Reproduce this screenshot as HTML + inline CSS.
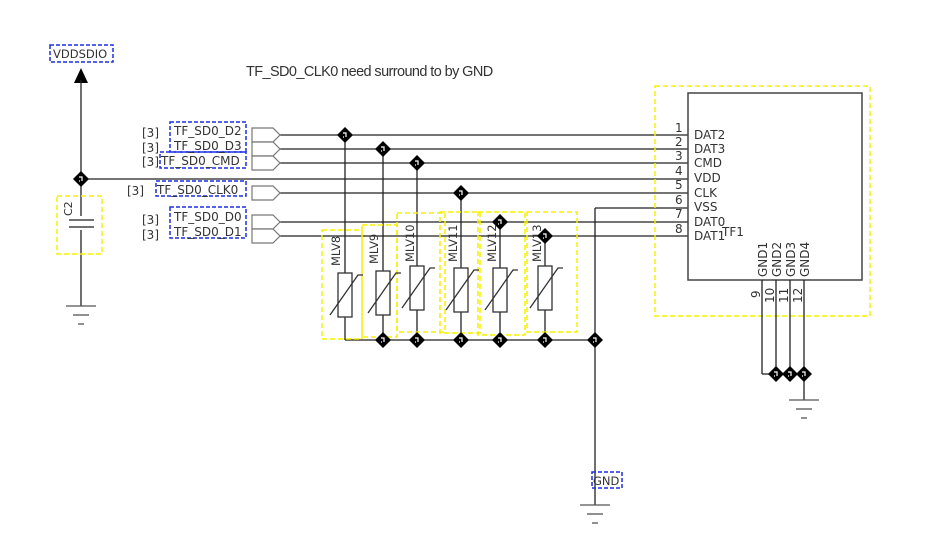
<!DOCTYPE html>
<html><head><meta charset="utf-8"><style>
html,body{margin:0;padding:0;background:#fff;}
svg{display:block;}
text{font-family:"DejaVu Sans","Liberation Sans",sans-serif;fill:#333;}
</style></head><body>
<svg width="950" height="554" viewBox="0 0 950 554" xmlns="http://www.w3.org/2000/svg">
<defs>
<g id="j"><path d="M0,-8 L8,0 L0,8 L-8,0 Z" fill="#000"/><path d="M-2,-2 h3 v4 M-2,2 h1" stroke="#fff" stroke-width="1.2" fill="none"/></g>
<g id="gnd" stroke="#555" stroke-width="1.3"><line x1="-15" y1="0" x2="15" y2="0"/><line x1="-8" y1="9" x2="8" y2="9"/><line x1="-3" y1="18" x2="3" y2="18"/></g>
</defs>

<text x="246" y="76" style="font-family:'Liberation Sans',sans-serif" font-size="14.5" letter-spacing="-0.6" fill="#111">TF_SD0_CLK0 need surround to by GND</text>

<!-- VDDSDIO -->
<rect x="50" y="45" width="63" height="17" fill="none" stroke="#1a2fe0" stroke-width="1.5" stroke-dasharray="4,2"/>
<text x="53" y="58" font-size="11.5">VDDSDIO</text>
<path d="M74,83 L81,68 L88,83 Z" fill="#000"/>
<line x1="81" y1="80" x2="81" y2="306" stroke="#222" stroke-width="1.3"/>
<!-- C2 -->
<rect x="57" y="196" width="45" height="58" fill="none" stroke="#f5f000" stroke-width="1.5" stroke-dasharray="5,3"/>
<rect x="66" y="216" width="30" height="14" fill="#fff"/>
<line x1="69" y1="220" x2="94" y2="220" stroke="#444" stroke-width="1.5"/>
<line x1="69" y1="227" x2="94" y2="227" stroke="#444" stroke-width="1.5"/>
<text transform="translate(72,216) rotate(-90)" font-size="11">C2</text>
<use href="#gnd" x="81" y="306"/>

<!-- net lines -->
<g stroke="#222" stroke-width="1.3" fill="none">
<line x1="280" y1="135" x2="688" y2="135"/>
<line x1="280" y1="149" x2="688" y2="149"/>
<line x1="280" y1="163" x2="688" y2="163"/>
<line x1="81" y1="179" x2="688" y2="179"/>
<line x1="280" y1="193" x2="688" y2="193"/>
<line x1="595" y1="208" x2="688" y2="208"/>
<line x1="280" y1="222" x2="688" y2="222"/>
<line x1="280" y1="236" x2="688" y2="236"/>
<line x1="345" y1="135" x2="345" y2="340"/>
<line x1="383" y1="149" x2="383" y2="340"/>
<line x1="417" y1="163" x2="417" y2="340"/>
<line x1="461" y1="193" x2="461" y2="340"/>
<line x1="500" y1="222" x2="500" y2="340"/>
<line x1="545" y1="236" x2="545" y2="340"/>
<line x1="345" y1="340" x2="595" y2="340"/>
<line x1="595" y1="208" x2="595" y2="505"/>
</g>

<!-- ports -->
<g fill="#fff" stroke="#777" stroke-width="1.2">
<path d="M252,128 H273 L280,135 L273,142 H252 Z"/>
<path d="M252,142 H273 L280,149 L273,156 H252 Z"/>
<path d="M252,156 H273 L280,163 L273,170 H252 Z"/>
<path d="M252,186 H273 L280,193 L273,200 H252 Z"/>
<path d="M252,215 H273 L280,222 L273,229 H252 Z"/>
<path d="M252,229 H273 L280,236 L273,243 H252 Z"/>
</g>
<g fill="none" stroke="#1a2fe0" stroke-width="1.5" stroke-dasharray="4,2">
<rect x="170" y="122" width="76" height="30"/>
<rect x="160" y="152" width="86" height="16"/>
<rect x="156" y="181" width="90" height="15"/>
<rect x="170" y="207" width="76" height="31"/>
</g>
<g font-size="12">
<text x="142" y="137">[3]</text><text x="174" y="135">TF_SD0_D2</text>
<text x="142" y="152">[3]</text><text x="174" y="150">TF_SD0_D3</text>
<text x="142" y="166">[3]</text><text x="161" y="165">TF_SD0_CMD</text>
<text x="127" y="195">[3]</text><text x="157" y="194">TF_SD0_CLK0</text>
<text x="142" y="224">[3]</text><text x="174" y="221">TF_SD0_D0</text>
<text x="142" y="239">[3]</text><text x="174" y="236">TF_SD0_D1</text>
</g>

<!-- MLV yellow boxes -->
<g fill="none" stroke="#f5f000" stroke-width="1.5" stroke-dasharray="5,3">
<rect x="322" y="230" width="40" height="109"/>
<rect x="362" y="225" width="35" height="112"/>
<rect x="397" y="213" width="48" height="119"/>
<rect x="440" y="212" width="40" height="121"/>
<rect x="478" y="212" width="47" height="123"/>
<rect x="527" y="212" width="50" height="120"/>
</g>
<g stroke="#333" stroke-width="1.3">
<rect x="338" y="273" width="14" height="44" fill="#fff"/><path d="M330,315 L358,275 H363" fill="none"/>
<rect x="376" y="271" width="14" height="44" fill="#fff"/><path d="M368,313 L396,273 H401" fill="none"/>
<rect x="410" y="266" width="14" height="44" fill="#fff"/><path d="M402,308 L430,268 H435" fill="none"/>
<rect x="454" y="268" width="14" height="44" fill="#fff"/><path d="M446,310 L474,270 H479" fill="none"/>
<rect x="493" y="268" width="14" height="44" fill="#fff"/><path d="M485,310 L513,270 H518" fill="none"/>
<rect x="538" y="266" width="14" height="44" fill="#fff"/><path d="M530,308 L558,268 H563" fill="none"/>
</g>
<g font-size="11.5" fill="#444">
<text transform="translate(340,266) rotate(-90)">MLV8</text>
<text transform="translate(378,264) rotate(-90)">MLV9</text>
<text transform="translate(414,262) rotate(-90)">MLV10</text>
<text transform="translate(457,262) rotate(-90)">MLV11</text>
<text transform="translate(496,262) rotate(-90)">MLV12</text>
<text transform="translate(541,262) rotate(-90)">MLV13</text>
</g>

<use href="#j" x="81" y="179"/>
<use href="#j" x="345" y="135"/>
<use href="#j" x="383" y="149"/>
<use href="#j" x="417" y="163"/>
<use href="#j" x="461" y="193"/>
<use href="#j" x="500" y="222"/>
<use href="#j" x="545" y="236"/>
<use href="#j" x="383" y="340"/>
<use href="#j" x="417" y="340"/>
<use href="#j" x="461" y="340"/>
<use href="#j" x="500" y="340"/>
<use href="#j" x="545" y="340"/>
<use href="#j" x="595" y="340"/>

<rect x="592" y="472" width="30" height="16" fill="none" stroke="#1a2fe0" stroke-width="1.5" stroke-dasharray="4,2"/>
<text x="593" y="485" font-size="11.5">GND</text>
<use href="#gnd" x="595" y="505"/>

<rect x="655" y="86" width="215" height="230" fill="none" stroke="#f5f000" stroke-width="1.5" stroke-dasharray="5,3"/>
<rect x="688" y="93" width="174" height="187" fill="none" stroke="#444" stroke-width="1.5"/>
<g font-size="12">
<text x="675" y="132">1</text><text x="694" y="139">DAT2</text>
<text x="675" y="146">2</text><text x="694" y="153">DAT3</text>
<text x="675" y="160">3</text><text x="694" y="167">CMD</text>
<text x="675" y="175">4</text><text x="694" y="182">VDD</text>
<text x="675" y="189">5</text><text x="694" y="197">CLK</text>
<text x="675" y="204">6</text><text x="694" y="211">VSS</text>
<text x="675" y="218">7</text><text x="694" y="226">DAT0</text>
<text x="675" y="233">8</text><text x="694" y="240">DAT1</text>
<text x="722" y="236">TF1</text>
<text transform="translate(767,277) rotate(-90)">GND1</text>
<text transform="translate(781,277) rotate(-90)">GND2</text>
<text transform="translate(795,277) rotate(-90)">GND3</text>
<text transform="translate(809,277) rotate(-90)">GND4</text>
<text transform="translate(760,298) rotate(-90)">9</text>
<text transform="translate(774,303) rotate(-90)">10</text>
<text transform="translate(788,303) rotate(-90)">11</text>
<text transform="translate(802,303) rotate(-90)">12</text>
</g>
<g stroke="#222" stroke-width="1.3">
<line x1="762" y1="280" x2="762" y2="374"/><line x1="762" y1="374" x2="776" y2="374"/>
<line x1="776" y1="280" x2="776" y2="374"/>
<line x1="790" y1="280" x2="790" y2="374"/>
<line x1="804" y1="280" x2="804" y2="400"/>
</g>
<use href="#j" x="776" y="374"/>
<use href="#j" x="790" y="374"/>
<use href="#j" x="804" y="374"/>
<use href="#gnd" x="804" y="400"/>
</svg>
</body></html>
